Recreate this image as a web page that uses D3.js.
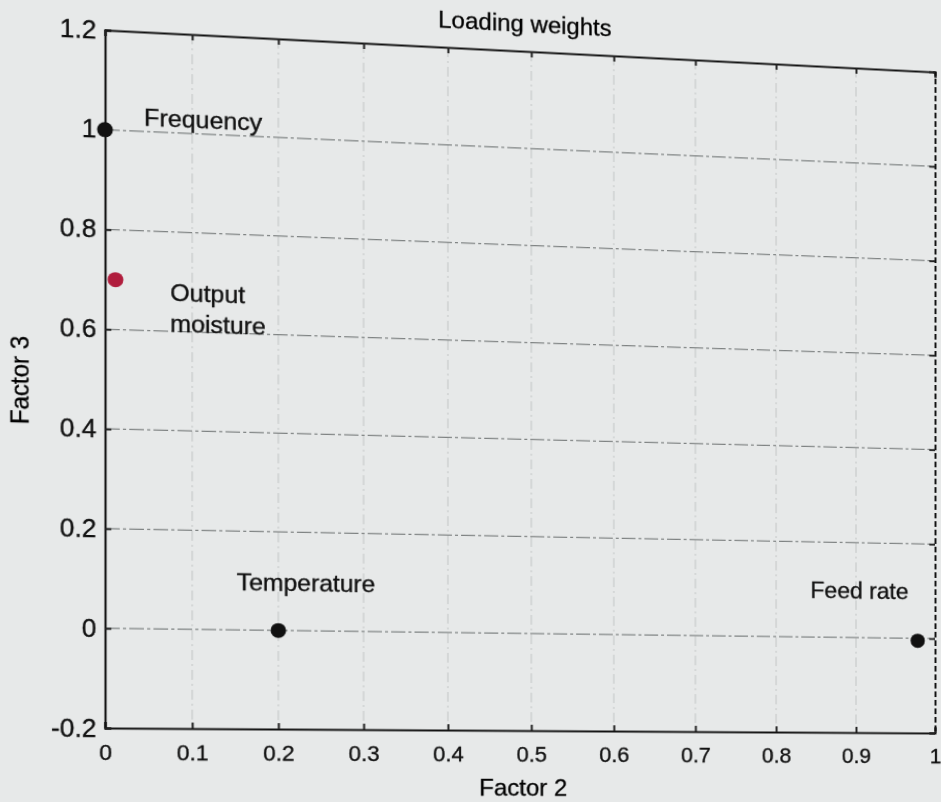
<!DOCTYPE html>
<html>
<head>
<meta charset="utf-8">
<script src="https://cdn.jsdelivr.net/npm/d3@7"></script>
<style>
	body { margin: 0; background: #e7e9e9; overflow: hidden; }
	svg { display: block; overflow: visible; transform-origin: 0 0; font-family: "Liberation Sans", Arial, sans-serif; }
	text { stroke: #111; stroke-width: 0.35px; }
</style>
</head>
<body>
<svg id="chart" width="941" height="802"></svg>
<script>
const variables = ['Frequency', 'Output moisture', 'Temperature', 'Feed rate'];
const factor2 = [0.0, 0.012, 0.2, 0.978];
const factor3 = [1.0, 0.70, 0.0, -0.005];
const pointColors = ['#111', '#b01d3d', '#111', '#111'];
const xTicks = [0, 0.1, 0.2, 0.3, 0.4, 0.5, 0.6, 0.7, 0.8, 0.9, 1];
const yTicks = [-0.2, 0, 0.2, 0.4, 0.6, 0.8, 1, 1.2];

const svg = d3.select('#chart');
const margin = { top: 30, right: 6, bottom: 73, left: 105 };
const width = 941 - margin.left - margin.right;
const height = 802 - margin.top - margin.bottom;

const x = d3.scaleLinear().domain([0, 1]).range([0, width]);
const y = d3.scaleLinear().domain([-0.2, 1.2]).range([height, 0]);

// the reference is a photo of a page: tilt the whole drawing the same way
const homography = (src, dst) => {
	const A = [], b = [];
	src.forEach(([sx, sy], i) => {
		const [u, v] = dst[i];
		A.push([sx, sy, 1, 0, 0, 0, -sx * u, -sy * u]); b.push(u);
		A.push([0, 0, 0, sx, sy, 1, -sx * v, -sy * v]); b.push(v);
	});
	const n = 8;
	for (let c = 0; c < n; c++) {
		let p = c;
		for (let r = c + 1; r < n; r++) if (Math.abs(A[r][c]) > Math.abs(A[p][c])) p = r;
		[A[c], A[p]] = [A[p], A[c]]; [b[c], b[p]] = [b[p], b[c]];
		for (let r = 0; r < n; r++) {
			if (r === c) continue;
			const f = A[r][c] / A[c][c];
			for (let k = c; k < n; k++) A[r][k] -= f * A[c][k];
			b[r] -= f * b[c];
		}
	}
	return b.map((v, i) => v / A[i][i]);
};
const L = margin.left, R = margin.left + width, T = margin.top, B = margin.top + height;
const [a, bb, c, d, e, f, g2, h2] = homography(
	[[L, T], [R, T], [L, B], [R, B]],
	[[L, T], [R, 72], [L, B - 1], [R, 733]]
);
svg.style('transform', `matrix3d(${a},${d},0,${g2},${bb},${e},0,${h2},0,0,1,0,${c},${f},0,1)`);

const g = svg.append('g').attr('transform', `translate(${margin.left},${margin.top})`);

// grid
g.append('g').selectAll('line')
	.data(xTicks.slice(1, -1))
	.join('line')
	.attr('x1', d => x(d)).attr('x2', d => x(d))
	.attr('y1', 0).attr('y2', height)
	.attr('stroke', '#c2c5c5').attr('stroke-width', 1)
	.attr('stroke-dasharray', '10,4,2,4');

g.append('g').selectAll('line')
	.data(yTicks.slice(1, -1))
	.join('line')
	.attr('x1', 0).attr('x2', width)
	.attr('y1', d => y(d)).attr('y2', d => y(d))
	.attr('stroke', '#7f8383').attr('stroke-width', 1.2)
	.attr('stroke-dasharray', '14,3,3,3');

// axes
const fmt = d => String(d);
g.append('g')
	.attr('class', 'xaxis')
	.attr('transform', `translate(0,${height})`)
	.call(d3.axisBottom(x).tickValues(xTicks).tickFormat(fmt).tickSize(-6).tickPadding(16));
g.append('g')
	.attr('class', 'yaxis')
	.call(d3.axisLeft(y).tickValues(yTicks).tickFormat(fmt).tickSize(-6).tickPadding(8));
g.append('g')
	.call(d3.axisTop(x).tickValues(xTicks).tickFormat('').tickSize(-6));
g.append('g')
	.attr('transform', `translate(${width},0)`)
	.call(d3.axisRight(y).tickValues(yTicks).tickFormat('').tickSize(-6))
	.select('.domain').attr('stroke-dasharray', '6,3');

g.selectAll('.domain').attr('stroke', '#111').attr('stroke-width', 2);
g.selectAll('.tick line').attr('stroke', '#222').attr('stroke-width', 2);
g.selectAll('.tick text').attr('fill', '#111');
g.selectAll('.xaxis .tick text').style('font-size', '22px');
g.selectAll('.yaxis .tick text').style('font-size', '25px');

// points
g.append('g').selectAll('circle')
	.data(variables)
	.join('circle')
	.attr('cx', (d, i) => x(factor2[i]))
	.attr('cy', (d, i) => y(factor3[i]))
	.attr('r', 7.5)
	.attr('fill', (d, i) => pointColors[i]);

// labels
const labelPos = [
	{ dx: 37, dy: -6, anchor: 'start' },
	{ dx: 52, dy: 19, anchor: 'start' },
	{ dx: 27, dy: -40, anchor: 'middle' },
	{ dx: -61, dy: -44, anchor: 'middle' }
];
const lab = g.append('g').style('font-size', '24px').attr('fill', '#111');
variables.forEach((v, i) => {
	const p = labelPos[i];
	const t = lab.append('text')
		.attr('x', x(factor2[i]) + p.dx)
		.attr('y', y(factor3[i]) + p.dy)
		.attr('text-anchor', p.anchor);
	const words = v === 'Output moisture' ? ['Output', 'moisture'] : [v];
	words.forEach((w, k) => {
		t.append('tspan').attr('x', x(factor2[i]) + p.dx).attr('dy', k ? 31 : 0).text(w);
	});
});

svg.append('text')
	.attr('x', 514).attr('y', 10)
	.attr('text-anchor', 'middle')
	.style('font-size', '24px')
	.text('Loading weights');

svg.append('text')
	.attr('x', 512).attr('y', 796)
	.attr('text-anchor', 'middle')
	.style('font-size', '24px')
	.text('Factor 2');

svg.append('text')
	.attr('transform', `translate(33,383) rotate(-90)`)
	.attr('text-anchor', 'middle')
	.style('font-size', '24px')
	.text('Factor 3');
</script>
</body>
</html>
